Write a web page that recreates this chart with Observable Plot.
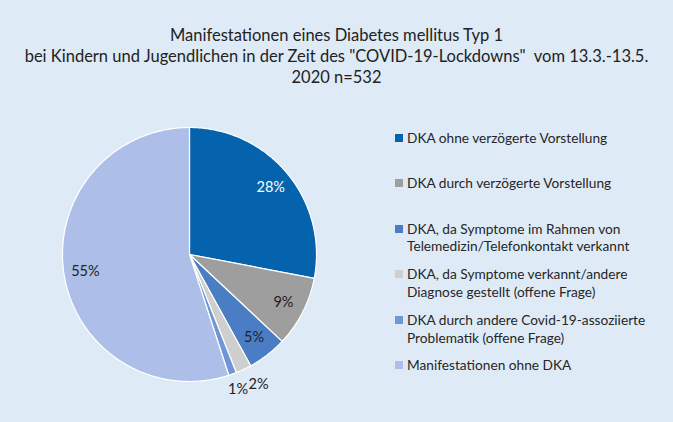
<!DOCTYPE html>
<html>
<head>
<meta charset="utf-8">
<script src="https://cdn.jsdelivr.net/npm/d3@7"></script>
<script src="https://cdn.jsdelivr.net/npm/@observablehq/plot@0.6"></script>
<style>
  html, body { margin: 0; padding: 0; }
  body { width: 673px; height: 422px; background: #deebf7; position: relative; overflow: hidden; font-family: Lato, "Open Sans", sans-serif; color: #222; }
  #chart { position: absolute; left: 0; top: 0; }
  #title { position: absolute; left: 0; top: 25px; width: 673px; text-align: center; font-size: 16.5px; line-height: 21px; white-space: pre; z-index: 2; }
  #legend { position: absolute; left: 395px; top: 128.5px; z-index: 2; font-size: 13.7px; line-height: 17.7px; color: #262626; }
  .item { position: relative; height: 45.6px; padding-left: 12px; white-space: nowrap; }
  .sw { position: absolute; left: 0; top: 5px; width: 8px; height: 8px; }
</style>
</head>
<body>
<div id="title"></div>
<div id="legend"></div>
<div id="chart"></div>
<script>
const titleLines = [
  "Manifestationen eines Diabetes mellitus Typ 1",
  "bei Kindern und Jugendlichen in der Zeit des \"COVID-19-Lockdowns\"  vom 13.3.-13.5.",
  "2020 n=532"
];
const categories = [
  "DKA ohne verzögerte Vorstellung",
  "DKA durch verzögerte Vorstellung",
  "DKA, da Symptome im Rahmen von\nTelemedizin/Telefonkontakt verkannt",
  "DKA, da Symptome verkannt/andere\nDiagnose gestellt (offene Frage)",
  "DKA durch andere Covid-19-assoziierte\nProblematik (offene Frage)",
  "Manifestationen ohne DKA"
];
const values = [28, 9, 5, 2, 1, 55];
const colors = ["#0563ae", "#9e9e9e", "#4a7dc3", "#cfcfcf", "#7196d5", "#adbee8"];
const labelColors = ["#ffffff", "#222222", "#222222", "#222222", "#222222", "#222222"];

document.getElementById("title").textContent = titleLines.join("\n");
const legend = document.getElementById("legend");
categories.forEach((c, i) => {
  const d = document.createElement("div");
  d.className = "item";
  d.innerHTML = `<span class="sw" style="background:${colors[i]}"></span>` + c.split("\n").join("<br>");
  legend.appendChild(d);
});

const data = categories.map((c, i) => ({category: c, value: values[i], color: colors[i], labelColor: labelColors[i]}));
const arcs = d3.pie().sort(null).value(d => d.value)(data);

// polygon vertices for each wedge
const poly = [];
arcs.forEach((a, i) => {
  poly.push({k: i, x: 0, y: 0});
  const n = Math.max(2, Math.ceil((a.endAngle - a.startAngle) / 0.01));
  for (let j = 0; j <= n; j++) {
    const t = a.startAngle + (a.endAngle - a.startAngle) * j / n;
    poly.push({k: i, x: Math.sin(t), y: Math.cos(t)});
  }
  poly.push({k: i, x: 0, y: 0});
});

const total = d3.sum(values);
const isOutside = v => v / total < 0.05;
const labels = arcs.map((a, i) => {
  const m = (a.startAngle + a.endAngle) / 2;
  const out = isOutside(a.data.value);
  const r = out ? 1.13 : 0.83;
  const nextOut = i + 1 < arcs.length && isOutside(arcs[i + 1].data.value);
  return {
    x: r * Math.sin(m), y: r * Math.cos(m),
    text: Math.round(a.data.value / total * 100) + "%",
    c: a.data.labelColor,
    anchor: out && nextOut ? "start" : "middle"
  };
});

const chart = Plot.plot({
  width: 673,
  height: 422,
  margin: 0,
  x: {domain: [-1, 1], range: [62, 316], axis: null},
  y: {domain: [-1, 1], range: [381, 127], axis: null},
  style: {background: "transparent", fontFamily: "Lato, 'Open Sans', sans-serif"},
  marks: [
    Plot.line(poly, {x: "x", y: "y", z: "k", fill: d => colors[d.k], stroke: "white", strokeWidth: 1.2, strokeLinejoin: "round"}),
    Plot.text(labels.filter(d => d.anchor === "middle"), {x: "x", y: "y", text: "text", fill: "c", fontSize: 14.5}),
    Plot.text(labels.filter(d => d.anchor === "start"), {x: "x", y: "y", text: "text", fill: "c", fontSize: 14.5, textAnchor: "start", dx: -2})
  ]
});
document.getElementById("chart").appendChild(chart);
</script>
</body>
</html>
